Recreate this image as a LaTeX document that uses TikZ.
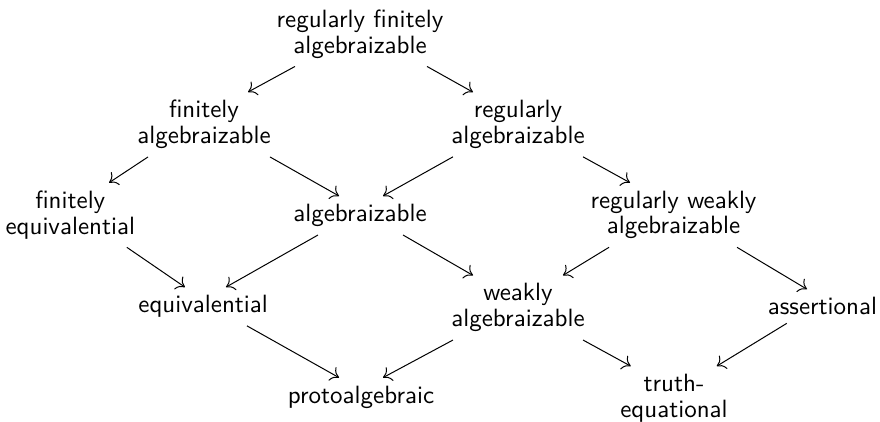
\documentclass[tikz,border=0pt]{standalone}
\usepackage{fontspec}
\usetikzlibrary{arrows.meta}

\begin{document}
\begin{tikzpicture}[x=0.4pt, y=-0.4pt,
  cls/.style={font=\sffamily\fontsize{10}{10.25}\selectfont, align=center, inner xsep=0pt, inner ysep=3.3pt, outer sep=0pt},
  imp/.style={-{Computer Modern Rightarrow[length=3.2pt,width=6.2pt]}, line width=0.4pt},
]
\useasboundingbox (0,0) rectangle (880,421);
% ---- classes ----
\node[cls] (regfinalg) at (360,34) {regularly finitely\\algebraizable};
\node[cls] (finalg) at (204,124.5) {finitely\\algebraizable};
\node[cls] (regalg) at (518,124.5) {regularly\\algebraizable};
\node[cls] (fineq) at (70.3,215) {finitely\\equivalential};
\node[cls] (alg) at (360,215.5) {algebraizable};
\node[cls] (regweakalg) at (673.5,215) {regularly weakly\\algebraizable};
\node[cls] (equiv) at (203.2,306.5) {equivalential};
\node[cls] (weakalg) at (518,307.7) {weakly\\algebraizable};
\node[cls] (assert) at (822.5,306.3) {assertional};
\node[cls] (proto) at (361,397.1) {protoalgebraic};
\node[cls] (truth) at (674,398.3) {truth-\\equational};
% ---- implications ----
\draw[imp] ([xshift=-26pt]regfinalg.south) -- ([xshift=17.6pt]finalg.north);
\draw[imp] ([xshift=26.8pt]regfinalg.south) -- ([xshift=-18pt]regalg.north);
\draw[imp] ([xshift=-22.4pt]finalg.south) -- ([xshift=15.5pt]fineq.north);
\draw[imp] ([xshift=26.4pt]finalg.south) -- ([xshift=-8.4pt]alg.north);
\draw[imp] ([xshift=-26pt]regalg.south) -- ([xshift=9.2pt]alg.north);
\draw[imp] ([xshift=26pt]regalg.south) -- ([xshift=-17.4pt]regweakalg.north);
\draw[imp] ([xshift=22.6pt]fineq.south) -- ([xshift=-7.3pt]equiv.north);
\draw[imp] ([xshift=-16.8pt]alg.south) -- ([xshift=9.1pt]equiv.north);
\draw[imp] ([xshift=17.2pt]alg.south) -- ([xshift=-18pt]weakalg.north);
\draw[imp] ([xshift=-25.8pt]regweakalg.south) -- ([xshift=18pt]weakalg.north);
\draw[imp] ([xshift=25.4pt]regweakalg.south) -- ([xshift=-6.2pt]assert.north);
\draw[imp] ([xshift=17.5pt]equiv.south) -- ([xshift=-8.8pt]proto.north);
\draw[imp] ([xshift=-26pt]weakalg.south) -- ([xshift=8.8pt]proto.north);
\draw[imp] ([xshift=26pt]weakalg.south) -- ([xshift=-17.3pt]truth.north);
\draw[imp] ([xshift=-14.3pt]assert.south) -- ([xshift=17.1pt]truth.north);
\end{tikzpicture}
\end{document}
